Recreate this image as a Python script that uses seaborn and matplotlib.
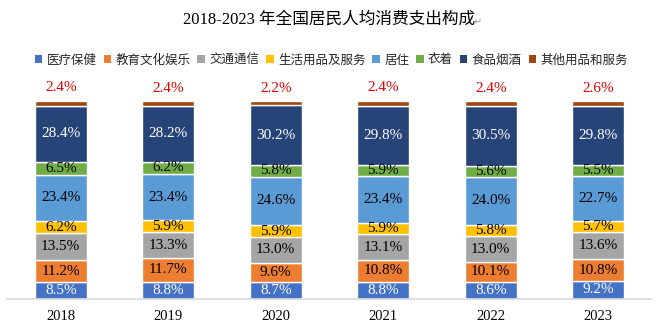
import numpy as np
import pandas as pd
import matplotlib
matplotlib.use("Agg")
import matplotlib.pyplot as plt
from matplotlib.patches import Patch
import seaborn as sns

years = ["2018", "2019", "2020", "2021", "2022", "2023"]
categories = ["医疗保健", "教育文化娱乐", "交通通信", "生活用品及服务", "居住", "衣着", "食品烟酒", "其他用品和服务"]
medical = [8.5, 8.8, 8.7, 8.8, 8.6, 9.2]
education = [11.2, 11.7, 9.6, 10.8, 10.1, 10.8]
transport = [13.5, 13.3, 13.0, 13.1, 13.0, 13.6]
household = [6.2, 5.9, 5.9, 5.9, 5.8, 5.7]
housing = [23.4, 23.4, 24.6, 23.4, 24.0, 22.7]
clothing = [6.5, 6.2, 5.8, 5.9, 5.6, 5.5]
food = [28.4, 28.2, 30.2, 29.8, 30.5, 29.8]
other = [2.4, 2.4, 2.2, 2.4, 2.4, 2.6]
series = [medical, education, transport, household, housing, clothing, food, other]
colors = ["#4472C4", "#ED7D31", "#A5A5A5", "#FFC000", "#5B9BD5", "#70AD47", "#264478", "#9E480E"]
label_colors = ["white", "black", "black", "black", "black", "black", "white", None]

sns.set_theme(style="white")
plt.rcParams['font.family'] = ['Liberation Serif', 'Noto Sans CJK SC', 'DejaVu Sans']

fig = plt.figure(figsize=(6.67, 3.32), dpi=100)
ax = fig.add_axes([7/667, 1 - 299/332, 645/667, 198/332])

bottom = np.zeros(len(years))
for i, (name, vals) in enumerate(zip(categories, series)):
    df = pd.DataFrame({"year": years, "value": vals})
    sns.barplot(data=df, x="year", y="value", order=years, color=colors[i],
                width=0.485, bottom=bottom.copy(), edgecolor="white", linewidth=1.0,
                saturation=1, ax=ax, errorbar=None)
    for j, v in enumerate(vals):
        if label_colors[i] is not None:
            ax.text(j, bottom[j] + v / 2, f"{v:.1f}%", ha="center", va="center",
                    fontsize=11, color=label_colors[i], family="Liberation Serif")
        else:
            ax.text(j, bottom[j] + v + 3.2, f"{v:.1f}%", ha="center", va="bottom",
                    fontsize=11, color="#E00000", family="Liberation Serif", clip_on=False)
    bottom += np.array(vals)

ax.set_xlim(-0.5, 5.5)
ax.set_ylim(0, 100)
ax.set_xlabel("")
ax.set_ylabel("")
ax.set_yticks([])
ax.tick_params(axis="x", length=0, pad=8, labelsize=10.5)
for lab in ax.get_xticklabels():
    lab.set_family("Liberation Serif")
    lab.set_color("black")
for s in ["top", "right", "left"]:
    ax.spines[s].set_visible(False)
ax.spines["bottom"].set_color("#D9D9D9")
ax.spines["bottom"].set_linewidth(1.2)

fig.text(0.493, 1 - 20/332, "2018-2023 年全国居民人均消费支出构成", ha="center", va="center",
         fontsize=12, color="black", family=['Liberation Serif', 'Noto Sans CJK SC'])
fig.text(474/667, 1 - 22/332, "↵", ha="left", va="center", fontsize=7, color="#A0A0A0",
         family=['DejaVu Sans'])

handles = [Patch(facecolor=c, edgecolor="none") for c in colors]
fig.legend(handles, categories, loc="center", bbox_to_anchor=(0.497, 1 - 60/332), ncol=8,
           frameon=False, handlelength=0.6, handleheight=0.6, handletextpad=0.35,
           columnspacing=0.55, prop={"family": "Noto Sans CJK SC", "size": 9})

fig.savefig("out.png", dpi=100)
